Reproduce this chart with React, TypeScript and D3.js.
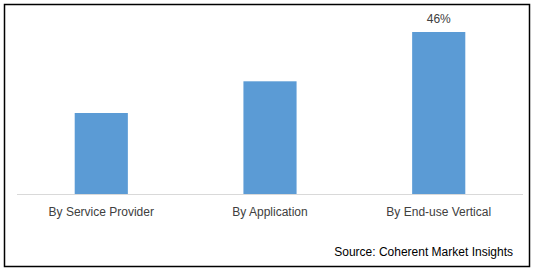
import React from "react";
import * as d3 from "d3";

const categories = ["By Service Provider", "By Application", "By End-use Vertical"];
const values = [23, 32, 46];
const labels = ["", "", "46%"];
const sourceText = "Source: Coherent Market Insights";

export default function App() {
  const W = 538, H = 272;
  const baseY = 194;
  const topY = 32;
  const x = d3.scaleBand<string>().domain(categories).range([17, 523]).paddingInner(0.685).paddingOuter(0.342);
  const y = d3.scaleLinear().domain([0, 46]).range([baseY, topY]);
  const font = "'Liberation Sans', Arial, sans-serif";
  return (
    <svg width={W} height={H} style={{ position: "absolute", left: 0, top: 0, display: "block" }}>
      <rect x={0} y={0} width={W} height={H} fill="#fff" />
      <rect x={4.5} y={4.5} width={525} height={262} fill="none" stroke="#000" strokeWidth={1.5} />
      {categories.map((c, i) => (
        <g key={c}>
          <rect x={x(c)} y={y(values[i])} width={x.bandwidth()} height={baseY - y(values[i])} fill="#5b9bd5" />
          {labels[i] && (
            <text x={x(c)! + x.bandwidth() / 2} y={y(values[i]) - 9} textAnchor="middle" fontFamily={font} fontSize={12} fill="#404040">
              {labels[i]}
            </text>
          )}
          <text x={x(c)! + x.bandwidth() / 2} y={216} textAnchor="middle" fontFamily={font} fontSize={12} fill="#404040">
            {c}
          </text>
        </g>
      ))}
      <line x1={17} x2={523} y1={baseY + 0.5} y2={baseY + 0.5} stroke="#d9d9d9" strokeWidth={1} />
      <text x={513} y={256} textAnchor="end" fontFamily={font} fontSize={12} fill="#000">
        {sourceText}
      </text>
    </svg>
  );
}
